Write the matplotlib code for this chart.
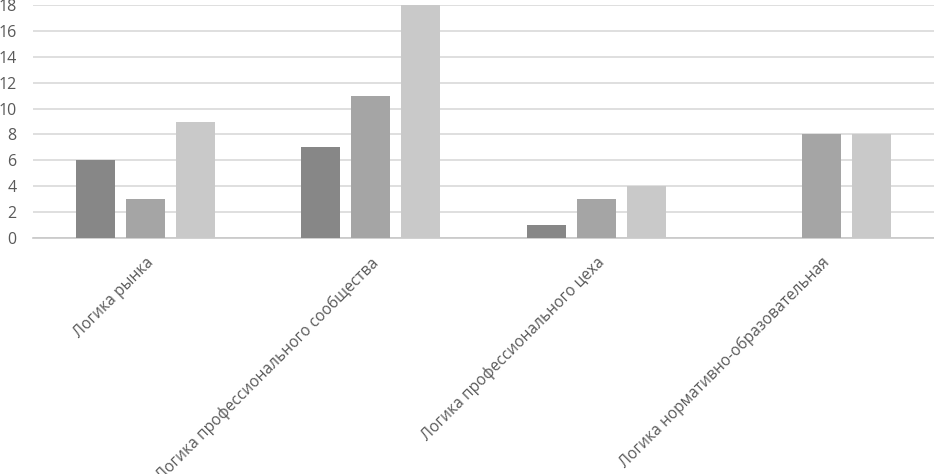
import matplotlib
matplotlib.use("Agg")
import matplotlib.pyplot as plt
import numpy as np

categories = ["Логика рынка",
              "Логика профессионального сообщества",
              "Логика профессионального цеха",
              "Логика нормативно-образовательная"]
series_1 = [6, 7, 1, 0]
series_2 = [3, 11, 3, 8]
series_3 = [9, 18, 4, 8]
colors = ["#878787", "#a5a5a5", "#c9c9c9"]

plt.rcParams['font.family'] = ['Open Sans', 'DejaVu Sans']

fig = plt.figure(figsize=(9.34, 4.74), dpi=100)
ax = fig.add_axes([33 / 934, 236 / 474, 901 / 934, 233 / 474])

x = np.arange(len(categories))
width = 0.173
step = 0.222
for i, vals in enumerate([series_1, series_2, series_3]):
    ax.bar(x + (i - 1) * step, vals, width, color=colors[i], zorder=3)

ax.set_xlim(-0.5, len(categories) - 0.5)
ax.set_ylim(0, 18)
ax.set_yticks(np.arange(0, 19, 2))
ax.yaxis.grid(True, color="#d9d9d9", linewidth=1.2, zorder=0)
ax.set_axisbelow(True)
for s in ["top", "right", "left"]:
    ax.spines[s].set_visible(False)
ax.spines["bottom"].set_color("#c8c8c8")
ax.spines["bottom"].set_linewidth(1.2)

ax.set_xticks(x)
ax.set_xticklabels(categories, rotation=45, ha="right", rotation_mode="anchor",
                   fontsize=11.2, color="#595959")
ax.tick_params(axis="x", length=0, pad=12)
ax.tick_params(axis="y", length=0, pad=12, labelsize=11.5, labelcolor="#595959")

fig.savefig("out.png", dpi=100)
